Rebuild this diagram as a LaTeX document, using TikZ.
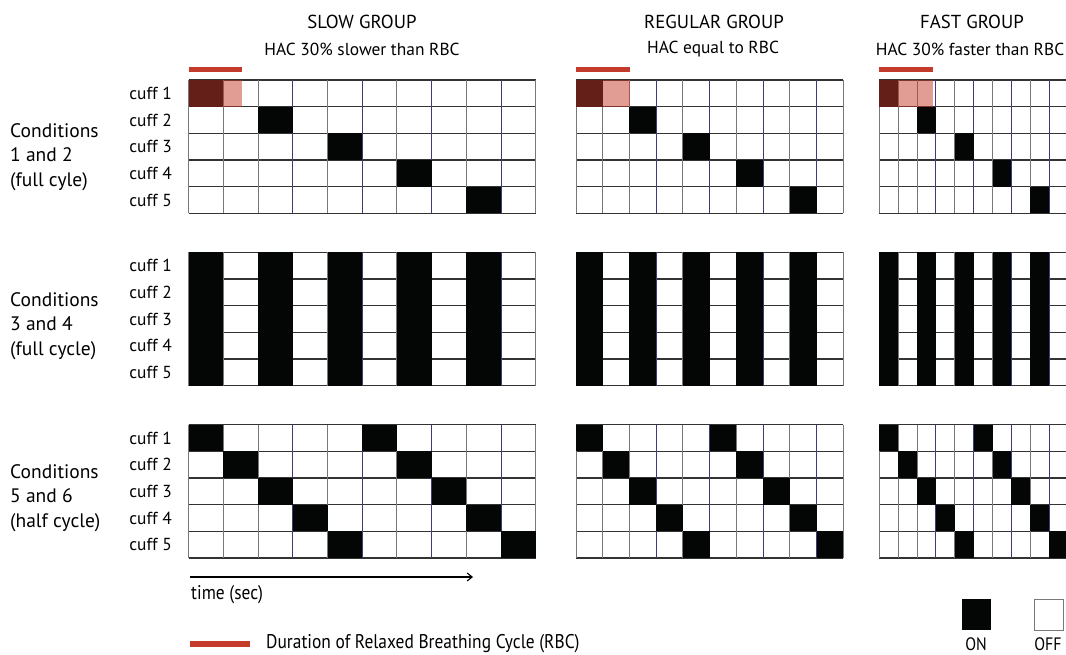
\documentclass[tikz,border=0pt]{standalone}
\usepackage{fontspec}
\setmainfont{PT Sans}
\newfontfamily\condfont[FakeStretch=0.88]{PT Sans}
\usetikzlibrary{arrows.meta}
\definecolor{rbc}{RGB}{196,58,43}
\definecolor{navyline}{RGB}{60,60,120}
\definecolor{gridgray}{RGB}{120,120,120}
\definecolor{oncol}{RGB}{4,6,5}
\tikzset{
  hline/.style={draw=black!80, line width=1.2pt},
  vline/.style={draw=gridgray, line width=0.9pt},
  vnavy/.style={draw=navyline, line width=0.9pt},
  oncell/.style={fill=oncol},
  title/.style={font=\fontsize{18.8}{20}\selectfont, anchor=center},
  subtitle/.style={font=\fontsize{17.4}{19}\selectfont, anchor=center},
  cufflabel/.style={font=\fontsize{17.4}{19}\selectfont, anchor=east, inner sep=0pt},
  condlabel/.style={font=\fontsize{19.5}{24.5}\selectfont, align=left, anchor=west, inner sep=0pt},
  rbcbar/.style={fill=rbc},
  legendtext/.style={font=\condfont\fontsize{19.8}{21}\selectfont, inner sep=0pt}
}
\newcommand\cuffgrid[4]{%
\begin{scope}[shift={(#1,#2)}]
  \foreach \r in {0,...,5} \draw[hline] (0,{\r*26.67}) -- ({10*#3},{\r*26.67});
  \foreach \c in {0,1,2,4,6,8,10} \draw[vline] ({\c*#3},0) -- ({\c*#3},133.35);
  \foreach \c in {3,5,7,9} \draw[vnavy] ({\c*#3},0) -- ({\c*#3},133.35);
  \ifnum#4=1
    \foreach \k in {0,...,4} \fill[oncell] ({2*\k*#3},{\k*26.67}) rectangle ++(#3,26.67);
  \fi
  \ifnum#4=2
    \foreach \c in {0,2,4,6,8} \fill[oncell] ({\c*#3},0) rectangle ++(#3,133.35);
  \fi
  \ifnum#4=3
    \foreach \k in {0,...,4} {
      \fill[oncell] ({\k*#3},{\k*26.67}) rectangle ++(#3,26.67);
      \fill[oncell] ({(\k+5)*#3},{\k*26.67}) rectangle ++(#3,26.67);
    }
  \fi
\end{scope}}
\begin{document}
\begin{tikzpicture}[x=1pt,y=-1pt]
\useasboundingbox (0,0) rectangle (1066,655);
\clip (0,0) rectangle (1066,655);
\fill[white] (0,0) rectangle (1066,655);

% titles
\node[title] (tslow) at (362,22) {SLOW GROUP};
\node[subtitle] (sslow) at (362,49) {HAC 30\% slower than RBC};
\node[title] (treg) at (714,22) {REGULAR GROUP};
\node[subtitle] (sreg) at (713,49) {HAC equal to RBC};
\node[title] (tfast) at (972,22) {FAST GROUP};
\node[subtitle] (sfast) at (970,49) {HAC 30\% faster than RBC};

% RBC bars
\fill[rbcbar] (188.7,67) rectangle ++(53.5,4.7);
\fill[rbcbar] (576,67) rectangle ++(53.5,4.7);
\fill[rbcbar] (879.3,67) rectangle ++(53.5,4.7);

% grids
\cuffgrid{188.7}{80}{34.7}{1}
\cuffgrid{576}{80}{26.73}{1}
\cuffgrid{879.3}{80}{18.87}{1}
\cuffgrid{188.7}{252.3}{34.7}{2}
\cuffgrid{576}{252.3}{26.73}{2}
\cuffgrid{879.3}{252.3}{18.87}{2}
\cuffgrid{188.7}{424.6}{34.7}{3}
\cuffgrid{576}{424.6}{26.73}{3}
\cuffgrid{879.3}{424.6}{18.87}{3}

% red overlays on cuff 1
\fill[rbc, opacity=0.5] (188.7,80) rectangle ++(53.5,26.67);
\fill[rbc, opacity=0.5] (576,80) rectangle ++(53.5,26.67);
\fill[rbc, opacity=0.5] (879.3,80) rectangle ++(53.5,26.67);

% cuff labels
\foreach \g/\y in {a/80,b/252.3,c/424.6}
  \foreach \k in {1,...,5}
    \node[cufflabel] (cuff\g\k) at (172,{\y+(\k-0.5)*26.67}) {cuff \k};

% condition labels
\node[condlabel] (cond12) at (10,157) {Conditions\\1 and 2\\(full cyle)};
\node[condlabel] (cond34) at (10,326) {Conditions\\3 and 4\\(full cycle)};
\node[condlabel] (cond56) at (10,498) {Conditions\\5 and 6\\(half cycle)};

% time arrow
\coordinate (tstart) at (190,577);
\coordinate (tend) at (473,577);
\draw[line width=1.1pt, -{Straight Barb[length=5pt,width=8pt]}] (tstart) -- (tend);
\node[legendtext, anchor=west] (time) at (191,595) {time (sec)};

% legend
\fill[rbcbar] (190,641) rectangle (250,647);
\node[legendtext, anchor=west] (rbclegend) at (266,644) {Duration of Relaxed Breathing Cycle (RBC)};
\fill[oncol] (962,599) rectangle (991,630);
\draw[draw=gridgray, line width=0.9pt] (1034,599) rectangle (1063,630);
\node[legendtext, font=\condfont\fontsize{18}{20}\selectfont] (onl) at (976,644.5) {ON};
\node[legendtext, font=\condfont\fontsize{18}{20}\selectfont] (offl) at (1048,644.5) {OFF};
\end{tikzpicture}
\end{document}
